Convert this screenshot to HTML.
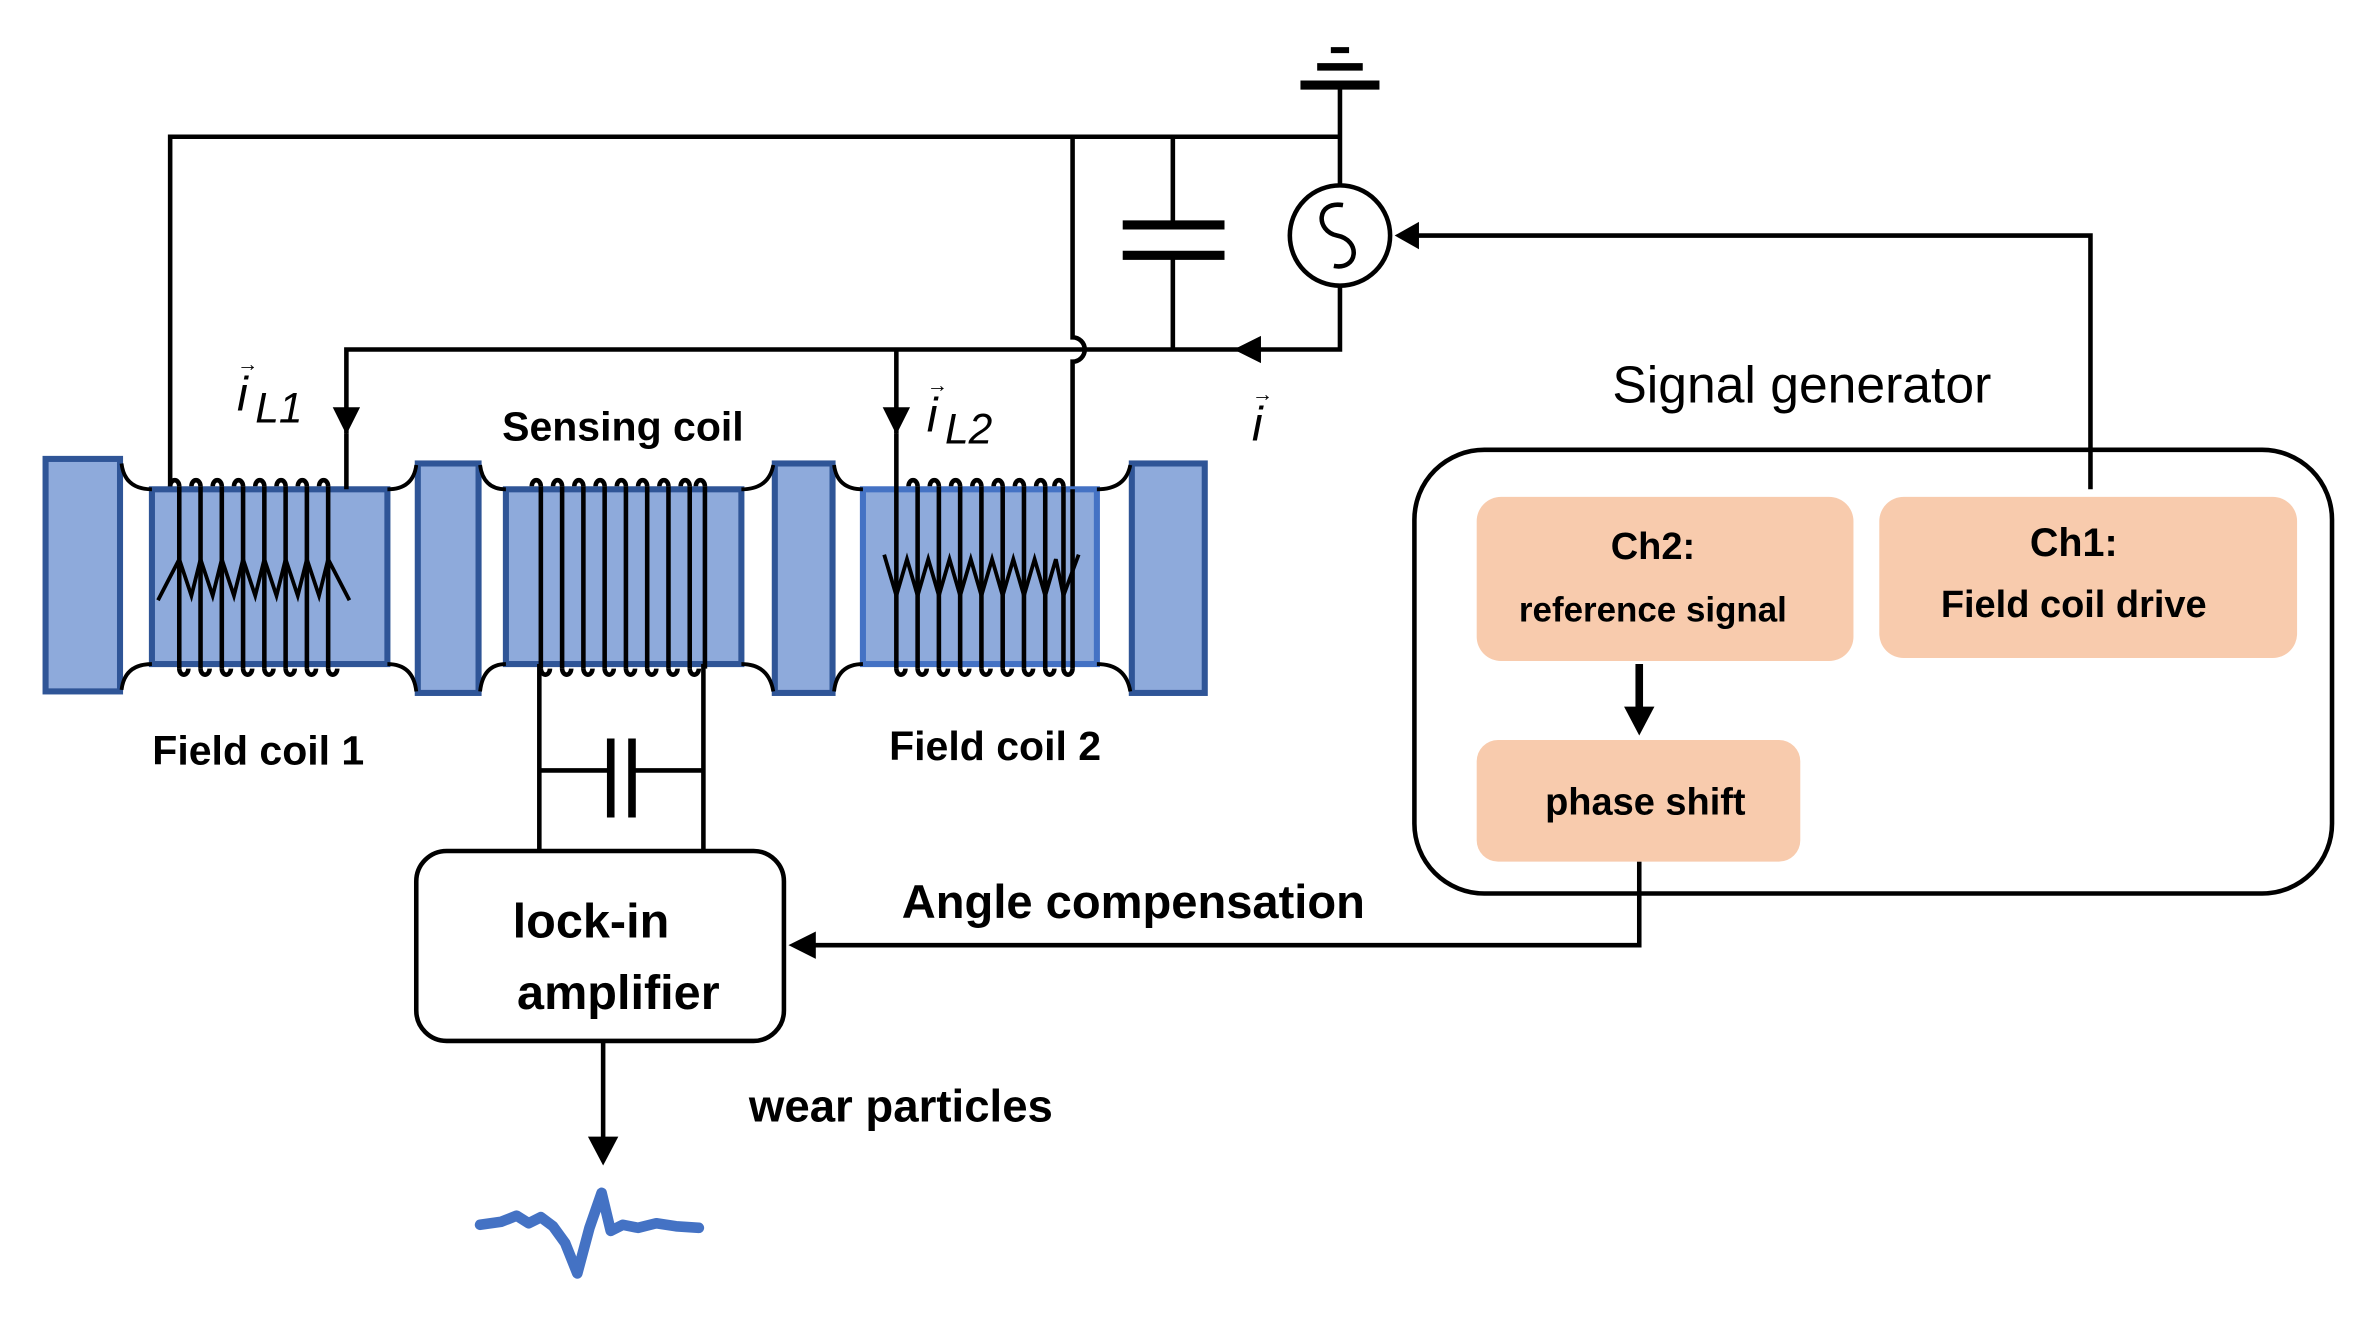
<!DOCTYPE html>
<html><head><meta charset="utf-8"><style>
html,body{margin:0;padding:0;background:#fff;}
svg{display:block;}
text{font-family:"Liberation Sans","DejaVu Sans",sans-serif;}
</style></head><body>
<svg width="2370" height="1319" viewBox="0 0 1560 868" preserveAspectRatio="none" xmlns="http://www.w3.org/2000/svg">
<g fill="none" stroke="#000" stroke-width="3">
<path d="M112,435 V90 H882"/>
<path d="M882,58 V122"/>
<line x1="856" y1="56" x2="908" y2="56" stroke-width="6"/>
<line x1="867" y1="44" x2="897" y2="44" stroke-width="5"/>
<line x1="876" y1="33" x2="888" y2="33" stroke-width="4"/>
<circle cx="882" cy="155" r="33"/>
<path d="M884,135 C866,132 866,152 880,155 C896,158 894,178 878,175"/>
<path d="M882,188 V230 H228 V285"/>
<path d="M590,230 V285"/>
<path d="M706,90 V222 A8,8 0 0 1 706,238 V322"/>
<path d="M772,90 V148 M772,168 V230"/>
<line x1="739" y1="148" x2="806" y2="148" stroke-width="6"/>
<line x1="739" y1="168" x2="806" y2="168" stroke-width="6"/>
<path d="M1376,322 V155 H932"/>
</g>
<path d="M918,155 L934,146 L934,164 z"/>
<path d="M812,230 L830,221 L830,239 z"/>
<path d="M219,268 L237,268 L228,286 z"/>
<path d="M581,268 L599,268 L590,286 z"/>

<g font-family="Liberation Serif,serif" font-style="italic" fill="#000">
<text x="156" y="270" font-size="32">i</text><text x="168" y="278" font-size="28">L1</text>
<text x="156" y="244" font-size="14" font-style="normal">→</text>
<text x="610" y="284" font-size="32">i</text><text x="622" y="292" font-size="28">L2</text>
<text x="610" y="258" font-size="14" font-style="normal">→</text>
<text x="824" y="290" font-size="32">i</text>
<text x="824" y="264" font-size="14" font-style="normal">→</text>
</g>

<g fill="#8eaadb" stroke="#2f5597" stroke-width="4">
<rect x="30" y="302" width="49" height="153"/>
<rect x="275" y="305" width="40" height="151"/>
<rect x="510" y="305" width="38" height="151"/>
<rect x="745" y="305" width="48" height="151"/>
<rect x="100" y="322" width="155" height="115"/>
<rect x="333" y="322" width="155" height="115"/>
<rect x="568" y="322" width="154" height="115" stroke="#4472c4"/>
</g>
<g fill="none" stroke="#000" stroke-width="2.5">
<path d="M80,305 Q82,322 100,322 M80,454 Q82,437 100,437"/>
<path d="M255,322 Q272,322 274,306 M255,437 Q272,437 274,455"/>
<path d="M316,306 Q318,322 333,322 M316,455 Q318,437 333,437"/>
<path d="M488,322 Q506,322 509,306 M488,437 Q506,437 509,455"/>
<path d="M549,306 Q551,322 568,322 M549,455 Q551,437 568,437"/>
<path d="M722,322 Q741,322 744,306 M722,437 Q741,437 744,455"/>
</g>
<g fill="none" stroke="#000" stroke-width="3">
<path d="M118,320 v120 M132,320 v120 M146,320 v120 M160,320 v120 M174,320 v120 M188,320 v120 M202,320 v120 M216,320 v120"/>
<path d="M112,320 a3,4 0 0 1 6,0 M126,320 a3,4 0 0 1 6,0 M140,320 a3,4 0 0 1 6,0 M154,320 a3,4 0 0 1 6,0 M168,320 a3,4 0 0 1 6,0 M182,320 a3,4 0 0 1 6,0 M196,320 a3,4 0 0 1 6,0 M210,320 a3,4 0 0 1 6,0"/>
<path d="M118,440 a3,4 0 0 0 6,0 M132,440 a3,4 0 0 0 6,0 M146,440 a3,4 0 0 0 6,0 M160,440 a3,4 0 0 0 6,0 M174,440 a3,4 0 0 0 6,0 M188,440 a3,4 0 0 0 6,0 M202,440 a3,4 0 0 0 6,0 M216,440 a3,4 0 0 0 6,0"/>
<path d="M104,395 L118,368 L126,392 L132,368 L140,392 L146,368 L154,392 L160,368 L168,392 L174,368 L182,392 L188,368 L196,392 L202,368 L210,392 L216,368 L230,395" stroke-width="2.5"/>
<path d="M356,320 v120 M370,320 v120 M384,320 v120 M398,320 v120 M412,320 v120 M426,320 v120 M440,320 v120 M454,320 v120 M464,320 v120"/>
<path d="M350,320 a3,4 0 0 1 6,0 M364,320 a3,4 0 0 1 6,0 M378,320 a3,4 0 0 1 6,0 M392,320 a3,4 0 0 1 6,0 M406,320 a3,4 0 0 1 6,0 M420,320 a3,4 0 0 1 6,0 M434,320 a3,4 0 0 1 6,0 M448,320 a3,4 0 0 1 6,0 M458,320 a3,4 0 0 1 6,0"/>
<path d="M356,440 a3,4 0 0 0 6,0 M370,440 a3,4 0 0 0 6,0 M384,440 a3,4 0 0 0 6,0 M398,440 a3,4 0 0 0 6,0 M412,440 a3,4 0 0 0 6,0 M426,440 a3,4 0 0 0 6,0 M440,440 a3,4 0 0 0 6,0 M454,440 a3,4 0 0 0 6,0"/>
<path d="M590,285 V440 M604,320 v120 M618,320 v120 M632,320 v120 M646,320 v120 M660,320 v120 M674,320 v120 M688,320 v120 M700,320 v120"/>
<path d="M598,320 a3,4 0 0 1 6,0 M612,320 a3,4 0 0 1 6,0 M626,320 a3,4 0 0 1 6,0 M640,320 a3,4 0 0 1 6,0 M654,320 a3,4 0 0 1 6,0 M668,320 a3,4 0 0 1 6,0 M682,320 a3,4 0 0 1 6,0 M694,320 a3,4 0 0 1 6,0"/>
<path d="M590,440 a3,4 0 0 0 6,0 M604,440 a3,4 0 0 0 6,0 M618,440 a3,4 0 0 0 6,0 M632,440 a3,4 0 0 0 6,0 M646,440 a3,4 0 0 0 6,0 M660,440 a3,4 0 0 0 6,0 M674,440 a3,4 0 0 0 6,0 M688,440 a3,4 0 0 0 6,0 M700,440 a3,4 0 0 0 6,0"/>
<path d="M582,365 L590,392 L597,368 L604,392 L611,368 L618,392 L625,368 L632,392 L639,368 L646,392 L653,368 L660,392 L667,368 L674,392 L681,368 L688,392 L695,368 L700,392 L710,365" stroke-width="2.5"/>
<path d="M228,285 V322 M706,322 V440"/>
<path d="M355,437 V560 M463,437 V560 M355,507 H402 M416,507 H463"/>
<line x1="402" y1="486" x2="402" y2="538" stroke-width="5"/>
<line x1="416" y1="486" x2="416" y2="538" stroke-width="5"/>
<rect x="274" y="560" width="242" height="125" rx="20"/>
<path d="M397,685 V752"/>
<path d="M1079,567 V622 H534"/>
<path d="M1079,437 V468" stroke-width="5"/>
<rect x="931" y="296" width="604" height="292" rx="46"/>
</g>
<path d="M519,622 L537,613 L537,631 z"/>
<path d="M387,748 L407,748 L397,767 z"/>
<path d="M1069,465 L1089,465 L1079,484 z"/>
<path d="M316,806 L330,804 L340,800 L348,805 L356,801 L364,807 L372,818 L380,838 L388,808 L396,785 L402,810 L410,806 L420,808 L432,805 L445,807 L460,808" fill="none" stroke="#4472c4" stroke-width="7" stroke-linecap="round" stroke-linejoin="round"/>

<g fill="#f8cbad">
<rect x="972" y="327" width="248" height="108" rx="16"/>
<rect x="1237" y="327" width="275" height="106" rx="16"/>
<rect x="972" y="487" width="213" height="80" rx="14"/>
</g>

<g font-weight="bold" fill="#000" text-anchor="middle">
<text x="410" y="290" font-size="27">Sensing coil</text>
<text x="170" y="503" font-size="27">Field coil 1</text>
<text x="655" y="500" font-size="27">Field coil 2</text>
<text x="389" y="617" font-size="32">lock-in</text>
<text x="407" y="664" font-size="32">amplifier</text>
<text x="746" y="604" font-size="31">Angle compensation</text>
<text x="593" y="738" font-size="30">wear particles</text>
<text x="1088" y="368" font-size="25">Ch2:</text>
<text x="1088" y="409" font-size="23">reference signal</text>
<text x="1365" y="366" font-size="26">Ch1:</text>
<text x="1365" y="406" font-size="25">Field coil drive</text>
<text x="1083" y="536" font-size="25">phase shift</text>
</g>
<text x="1186" y="265" font-size="34" text-anchor="middle" fill="#000">Signal generator</text>
</svg>
</body></html>
